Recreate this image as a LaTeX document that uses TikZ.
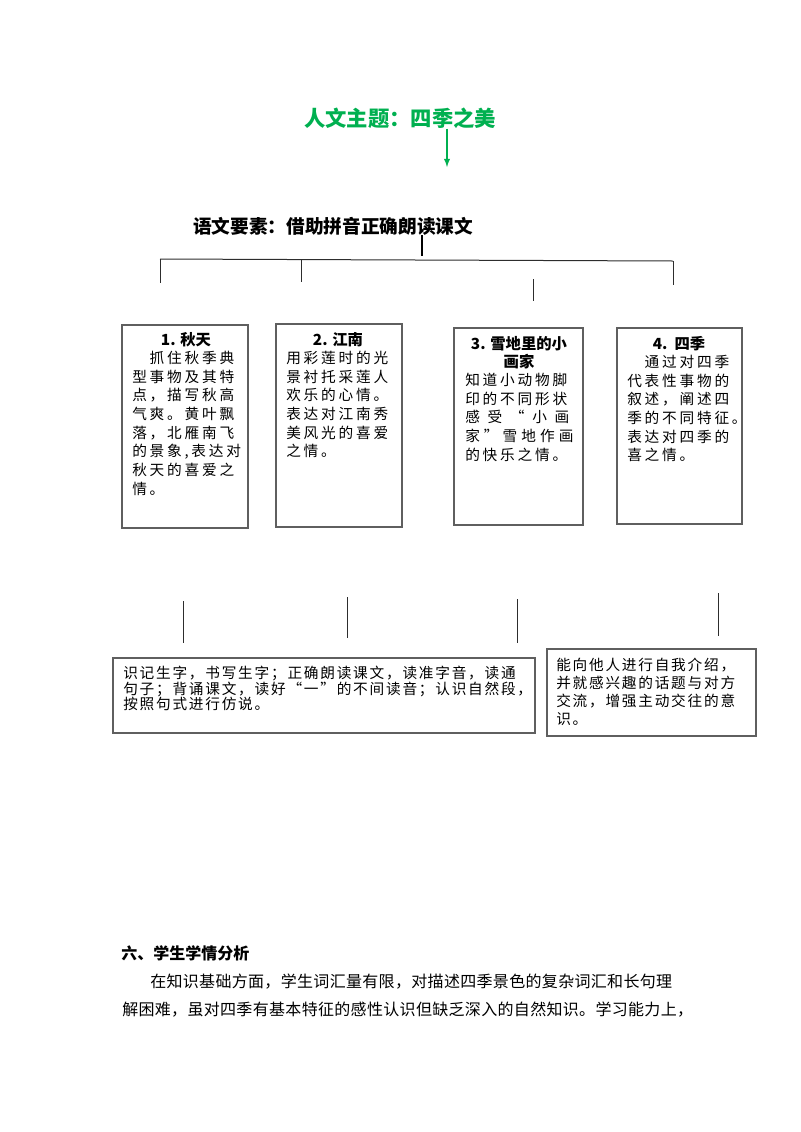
\documentclass[tikz,border=0pt]{standalone}
\usepackage{fontspec}
\setmainfont{Noto Sans CJK SC}
\newfontfamily\boxfont[LetterSpace=19]{Noto Sans CJK SC}
\newfontfamily\notefont[LetterSpace=12]{Noto Sans CJK SC}
\newfontfamily\parafont[LetterSpace=2]{Noto Sans CJK SC}
\usepackage{xcolor}
\usepackage{tikz}
\usetikzlibrary{arrows,positioning,fit}
\definecolor{themegreen}{RGB}{0,176,80}
\definecolor{boxgray}{RGB}{95,95,95}
\definecolor{linegray}{RGB}{45,45,45}

\begin{document}
\begin{tikzpicture}[
    x=0.75pt, y=-0.75pt,
    theme/.style={inner sep=0pt, text=themegreen, font=\fontsize{16}{19}\selectfont\bfseries},
    element/.style={inner sep=0pt, font=\fontsize{14}{17}\selectfont\bfseries},
    box/.style={rectangle, draw=boxgray, line width=0.9pt, inner sep=0pt},
    boxhead/.style={inner sep=0pt, align=center, font=\fontsize{11.5}{13.5}\selectfont\bfseries},
    boxtext/.style={inner sep=0pt, anchor=north west, align=left, font=\boxfont\fontsize{11}{14}\selectfont},
    notetext/.style={inner sep=0pt, anchor=north west, align=left, font=\notefont\fontsize{11}{11.5}\selectfont},
    heading/.style={inner sep=0pt, anchor=west, font=\fontsize{12}{14}\selectfont\bfseries},
    para/.style={inner sep=0pt, anchor=west, font=\parafont\fontsize{12}{14}\selectfont},
    arrow/.style={-latex, line width=1.1pt, draw=themegreen},
    link/.style={line width=0.75pt, draw=linegray},
    tick/.style={line width=1.6pt, draw=black}
]
\useasboundingbox (0,0) rectangle (800,1132);

% Theme
\node[theme] (theme) at (400,118) {人文主题：四季之美};
\coordinate (themeTip) at (447,167);
\draw[arrow] (theme.south -| themeTip) -- (themeTip);

% Language element
\node[element] (element) at (333,226) {语文要素：借助拼音正确朗读课文};
\coordinate (barTick) at (422,256);
\draw[tick] (element.south -| barTick) -- (barTick);

% Tree bar
\coordinate (barL) at (160,259);
\coordinate (barB) at (301,259.5);
\coordinate (barR) at (673,261);
\coordinate (legA) at (160,283);
\coordinate (legB) at (301,282);
\coordinate (legD) at (673,285);
\coordinate (stubTopC) at (533,279);
\coordinate (stubBotC) at (533,301);
\draw[link] (barL) -- (barR);
\draw[link] (barL) -- (legA);
\draw[link] (barB) -- (legB);
\draw[link] (barR) -- (legD);
\draw[link] (stubTopC) -- (stubBotC);

% Lesson boxes
\node[box, fit={(122,325) (248,528)}] (autumn) {};
\node[boxhead] (autumnHead) at (186,340) {1. 秋天};
\node[boxtext] (autumnText) at (132,351) {　抓住秋季典\\型事物及其特\\点，描写秋高\\气爽。黄叶飘\\落，北雁南飞\\的景象,表达对\\秋天的喜爱之\\情。};

\node[box, fit={(276,324) (402,527)}] (jiangnan) {};
\node[boxhead] (jiangnanHead) at (338,340) {2. 江南};
\node[boxtext] (jiangnanText) at (286,351) {用彩莲时的光\\景衬托采莲人\\欢乐的心情。\\表达对江南秀\\美风光的喜爱\\之情。};

\node[box, fit={(454,328) (583,525)}] (snow) {};
\node[boxhead] (snowHead) at (519,353) {3. 雪地里的小\\画家};
\node[boxtext] (snowText) at (465,373) {知道小动物脚\\印的不同形状\\\makebox[78pt][s]{感 受 “ 小 画}\\\makebox[78pt][s]{家 ” 雪 地 作 画}\\的快乐之情。};

\node[box, fit={(617,328) (742,524)}] (seasons) {};
\node[boxhead] (seasonsHead) at (679,344) {4.\ \ 四季};
\node[boxtext] (seasonsText) at (627,355) {　通过对四季\\代表性事物的\\叙述，阐述四\\季的不同特征。\\表达对四季的\\喜之情。};

% Goal stubs
\coordinate (stubTopA) at (183,601);
\coordinate (stubBotA) at (183,643);
\coordinate (stubTopB) at (347,597);
\coordinate (stubBotB) at (347,638);
\coordinate (stubTopE) at (517,599);
\coordinate (stubBotE) at (517,643);
\coordinate (stubTopF) at (718,593);
\coordinate (stubBotF) at (718,636);
\draw[link] (stubTopA) -- (stubBotA);
\draw[link] (stubTopB) -- (stubBotB);
\draw[link] (stubTopE) -- (stubBotE);
\draw[link] (stubTopF) -- (stubBotF);

% Goal boxes
\node[box, fit={(113,658) (535,733)}] (skills) {};
\node[notetext] (skillsText) at (123,666) {识记生字，书写生字；正确朗读课文，读准字音，读通\\句子；背诵课文，读好“一”的不间读音；认识自然段，\\按照句式进行仿说。};

\node[box, fit={(547,649) (756,736)}] (talk) {};
\node[notetext, font=\notefont\fontsize{11}{13.5}\selectfont] (talkText) at (556,658) {能向他人进行自我介绍，\\并就感兴趣的话题与对方\\交流，增强主动交往的意\\识。};

% Student analysis
\node[heading] (analysis) at (121,953) {六、学生学情分析};
\node[para] (paraA) at (150,982) {在知识基础方面，学生词汇量有限，对描述四季景色的复杂词汇和长句理};
\node[para] (paraB) at (122,1010) {解困难，虽对四季有基本特征的感性认识但缺乏深入的自然知识。学习能力上，};

\end{tikzpicture}
\end{document}
